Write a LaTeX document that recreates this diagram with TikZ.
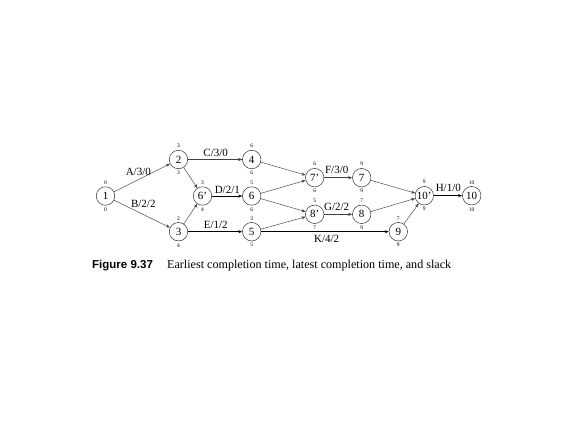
\documentclass[tikz,border=0pt]{standalone}
\usepackage{fontspec}
\setmainfont{Liberation Serif}
\newfontfamily\capsans{Liberation Sans}
\usetikzlibrary{arrows.meta}
\begin{document}
\begin{tikzpicture}[x=1pt,y=-1pt,
  ev/.style={circle,draw=black!80,line width=0.5pt,minimum size=18.5pt,inner sep=0pt,font=\fontsize{11}{11}\selectfont},
  sm/.style={font=\fontsize{5.5}{5.5}\selectfont,inner sep=0pt},
  lab/.style={font=\fontsize{11}{11}\selectfont,inner sep=0pt},
  ed/.style={draw=black!75,line width=0.45pt,-{Stealth[length=4pt,width=3pt]}},
  edb/.style={draw=black,line width=0.8pt,-{Stealth[length=4pt,width=3pt]}}]
\useasboundingbox (0,0) rectangle (576,432);
\fill[white] (0,0) rectangle (576,432);
% events
\node[ev] (n1) at (105.5,196) {1};
\node[ev] (n2) at (178.5,159.5) {2};
\node[ev] (n6p) at (202.5,196) {6'};
\node[ev] (n3) at (178.5,231.7) {3};
\node[ev] (n4) at (251.7,159.5) {4};
\node[ev] (n6) at (251.7,196) {6};
\node[ev] (n5) at (251.7,231.7) {5};
\node[ev] (n7p) at (314.7,177.7) {7'};
\node[ev] (n7) at (361.7,177.7) {7};
\node[ev] (n8p) at (314.7,214.3) {8'};
\node[ev] (n8) at (361.7,214.3) {8};
\node[ev] (n9) at (398.3,231.7) {9};
\node[ev] (n10p) at (424.3,195.7) {10'};
\node[ev] (n10) at (471.7,195.7) {10};
% small numbers (above: earliest, below: latest)
\foreach \n/\a/\b in {n1/0/0,n2/3/3,n6p/3/4,n3/2/4,n4/6/6,n6/5/6,n5/3/5,n7p/6/6,n7/9/9,n8p/5/7,n8/7/9,n9/7/9,n10p/9/9,n10/10/10}{
  \node[sm] (\n a) at ([yshift=13.5pt]\n.center) {\a};
  \node[sm] (\n b) at ([yshift=-13.5pt]\n.center) {\b};
}
% edges
\draw[ed] (n1) -- (n2);
\draw[ed] (n1) -- (n3);
\draw[ed] (n2) -- (n4);
\draw[ed] (n2) -- (n6p);
\draw[ed] (n3) -- (n6p);
\draw[edb] (n6p) -- (n6);
\draw[edb] (n3) -- (n5);
\draw[ed] (n4) -- (n7p);
\draw[ed] (n6) -- (n7p);
\draw[ed] (n6) -- (n8p);
\draw[ed] (n5) -- (n8p);
\draw[ed] (n7p) -- (n7);
\draw[ed] (n8p) -- (n8);
\draw[edb] (n5) -- (n9);
\draw[ed] (n7) -- (n10p);
\draw[ed] (n8) -- (n10p);
\draw[ed] (n9) -- (n10p);
\draw[edb] (n10p) -- (n10);
% labels
\node[lab] (lA) at (138.3,172.3) {A/3/0};
\node[lab] (lB) at (143.3,204) {B/2/2};
\node[lab] (lC) at (215.7,152.7) {C/3/0};
\node[lab] (lD) at (227.3,190) {D/2/1};
\node[lab] (lE) at (215.7,225) {E/1/2};
\node[lab] (lF) at (336.7,170) {F/3/0};
\node[lab] (lG) at (336.7,206.7) {G/2/2};
\node[lab] (lK) at (326.7,239.3) {K/4/2};
\node[lab] (lH) at (448.3,188.3) {H/1/0};
% caption
\node[anchor=west,inner sep=0pt,font=\capsans\bfseries\fontsize{11.5}{11.5}\selectfont] (capA) at (92,266) {Figure 9.37};
\node[anchor=west,inner sep=0pt,font=\fontsize{12.1}{12.1}\selectfont] (capB) at (167,266) {Earliest completion time, latest completion time, and slack};
\end{tikzpicture}
\end{document}
